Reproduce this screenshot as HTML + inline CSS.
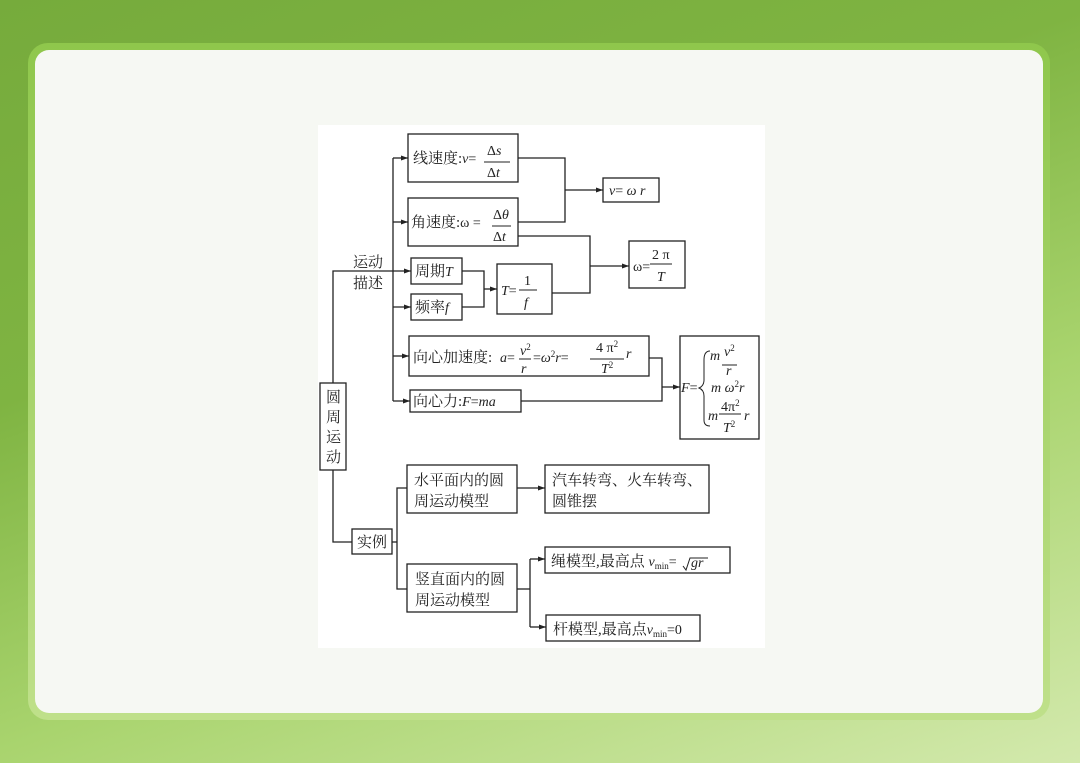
<!DOCTYPE html>
<html><head><meta charset="utf-8"><style>
html,body{margin:0;padding:0;width:1080px;height:763px;overflow:hidden}
body{background:linear-gradient(160deg,#76ab3c 0%,#7fb442 35%,#a9d46e 65%,#d3e9ad 100%)}
.ring{position:absolute;left:28px;top:43px;width:1022px;height:677px;border-radius:20px;background:linear-gradient(180deg,#8fc74c,#bfe08a)}
.panel{position:absolute;left:35px;top:50px;width:1008px;height:663px;border-radius:14px;background:#f6f8f3}
svg{position:absolute;left:0;top:0}
text{font-family:"Liberation Serif","Noto Serif CJK SC",serif;fill:#222}
.c{font-size:15px}
.m{font-size:14px;font-style:italic}
.n{font-size:14px;font-style:normal}
.s{font-size:9px;font-style:normal}
</style></head><body>
<div class="ring"></div><div class="panel"></div>
<svg width="1080" height="763" viewBox="0 0 1080 763">
<defs><marker id="a" markerWidth="8" markerHeight="6" refX="7" refY="3" orient="auto" markerUnits="userSpaceOnUse"><path d="M0,0.5L7,3L0,5.5z" fill="#222"/></marker></defs>
<rect x="318" y="125" width="447" height="523" fill="#fff"/>
<g fill="none" stroke="#222" stroke-width="1.3">
<rect x="408" y="134" width="110" height="48"/>
<rect x="603" y="178" width="56" height="24"/>
<rect x="408" y="198" width="110" height="48"/>
<rect x="411" y="258" width="51" height="26"/>
<rect x="411" y="294" width="51" height="26"/>
<rect x="497" y="264" width="55" height="50"/>
<rect x="629" y="241" width="56" height="47"/>
<rect x="409" y="336" width="240" height="40"/>
<rect x="680" y="336" width="79" height="103"/>
<rect x="410" y="390" width="111" height="22"/>
<rect x="320" y="383" width="26" height="87"/>
<rect x="407" y="465" width="110" height="48"/>
<rect x="545" y="465" width="164" height="48"/>
<rect x="352" y="529" width="40" height="25"/>
<rect x="407" y="564" width="110" height="48"/>
<rect x="545" y="547" width="185" height="26"/>
<rect x="546" y="615" width="154" height="26"/>
<path d="M333,383V271H411" marker-end="url(#a)"/>
<path d="M333,470V542H352"/>
<path d="M393,158V401"/>
<path d="M393,158H408" marker-end="url(#a)"/>
<path d="M393,222H408" marker-end="url(#a)"/>
<path d="M393,307H411" marker-end="url(#a)"/>
<path d="M393,356H409" marker-end="url(#a)"/>
<path d="M393,401H410" marker-end="url(#a)"/>
<path d="M518,158H565V222H518"/>
<path d="M565,190H603" marker-end="url(#a)"/>
<path d="M518,236H590V293H552"/>
<path d="M590,266H629" marker-end="url(#a)"/>
<path d="M462,271H484V307H462"/>
<path d="M484,289H497" marker-end="url(#a)"/>
<path d="M649,358H662V401H521"/>
<path d="M662,387H680" marker-end="url(#a)"/>
<path d="M392,542H397"/>
<path d="M407,488H397V589H407"/>
<path d="M517,488H545" marker-end="url(#a)"/>
<path d="M517,589H530"/>
<path d="M530,559V627"/>
<path d="M530,559H545" marker-end="url(#a)"/>
<path d="M530,627H546" marker-end="url(#a)"/>
<path d="M484,162H510M492,226H511M519,290H537M650,264H672M519,359H531M590,359H624M722,365H737M719,414H741" stroke-width="1"/>
<path d="M710,351Q704,351 704,360V380Q704,386 699,388Q704,390 704,396V420Q704,426 710,426" stroke-width="1"/>
<path d="M683,566L686,570L690,558H708" stroke-width="1"/>
</g>
<text x="413" y="163" class="c">线速度:<tspan class="m">v</tspan><tspan class="n">=</tspan></text>
<text x="487" y="155" class="n">Δ<tspan class="m">s</tspan></text>
<text x="487" y="177" class="n">Δ<tspan class="m">t</tspan></text>
<text x="609" y="195" class="m">v<tspan class="n">=</tspan> ω r</text>
<text x="411" y="227" class="c">角速度:<tspan class="n">ω =</tspan></text>
<text x="493" y="219" class="n">Δ<tspan class="m">θ</tspan></text>
<text x="493" y="241" class="n">Δ<tspan class="m">t</tspan></text>
<text x="415" y="276" class="c">周期<tspan class="m">T</tspan></text>
<text x="415" y="312" class="c">频率<tspan class="m">f</tspan></text>
<text x="501" y="295" class="m">T<tspan class="n">=</tspan></text>
<text x="524" y="285" class="n">1</text>
<text x="524" y="307" class="m">f</text>
<text x="633" y="271" class="n">ω=</text>
<text x="652" y="259" class="n">2 π</text>
<text x="657" y="281" class="m">T</text>
<text x="413" y="362" class="c">向心加速度:</text>
<text x="500" y="362" class="m">a<tspan class="n">=</tspan></text>
<text x="520" y="355" class="m">v<tspan class="s" dy="-5">2</tspan></text>
<text x="521" y="373" class="m">r</text>
<text x="533" y="362" class="n">=<tspan class="m">ω</tspan><tspan class="s" dy="-5">2</tspan><tspan class="m" dy="5">r</tspan>=</text>
<text x="596" y="352" class="n">4 π<tspan class="s" dy="-5">2</tspan></text>
<text x="601" y="373" class="m">T<tspan class="s" dy="-5">2</tspan></text>
<text x="626" y="358" class="m">r</text>
<text x="413" y="406" class="c">向心力:<tspan class="m">F</tspan><tspan class="n">=</tspan><tspan class="m">ma</tspan></text>
<text x="681" y="392" class="m">F<tspan class="n">=</tspan></text>
<text x="710" y="360" class="m">m</text>
<text x="724" y="356" class="m">v<tspan class="s" dy="-5">2</tspan></text>
<text x="726" y="375" class="m">r</text>
<text x="711" y="392" class="m">m ω<tspan class="s" dy="-5">2</tspan><tspan dy="5">r</tspan></text>
<text x="708" y="420" class="m">m</text>
<text x="721" y="411" class="n">4π<tspan class="s" dy="-5">2</tspan></text>
<text x="723" y="432" class="m">T<tspan class="s" dy="-5">2</tspan></text>
<text x="744" y="420" class="m">r</text>
<text x="326" y="402" class="c">圆</text>
<text x="326" y="422" class="c">周</text>
<text x="326" y="442" class="c">运</text>
<text x="326" y="462" class="c">动</text>
<text x="353" y="267" class="c">运动</text>
<text x="353" y="288" class="c">描述</text>
<text x="414" y="485" class="c">水平面内的圆</text>
<text x="414" y="506" class="c">周运动模型</text>
<text x="552" y="485" class="c">汽车转弯、火车转弯、</text>
<text x="552" y="506" class="c">圆锥摆</text>
<text x="357" y="547" class="c">实例</text>
<text x="415" y="584" class="c">竖直面内的圆</text>
<text x="415" y="605" class="c">周运动模型</text>
<text x="551" y="566" class="c">绳模型,最高点 <tspan class="m">v</tspan><tspan class="s" dy="3">min</tspan><tspan class="n" dy="-3">=</tspan></text>
<text x="691" y="567" class="m">gr</text>
<text x="553" y="634" class="c">杆模型,最高点<tspan class="m">v</tspan><tspan class="s" dy="3">min</tspan><tspan class="n" dy="-3">=0</tspan></text>
</svg>
</body></html>
